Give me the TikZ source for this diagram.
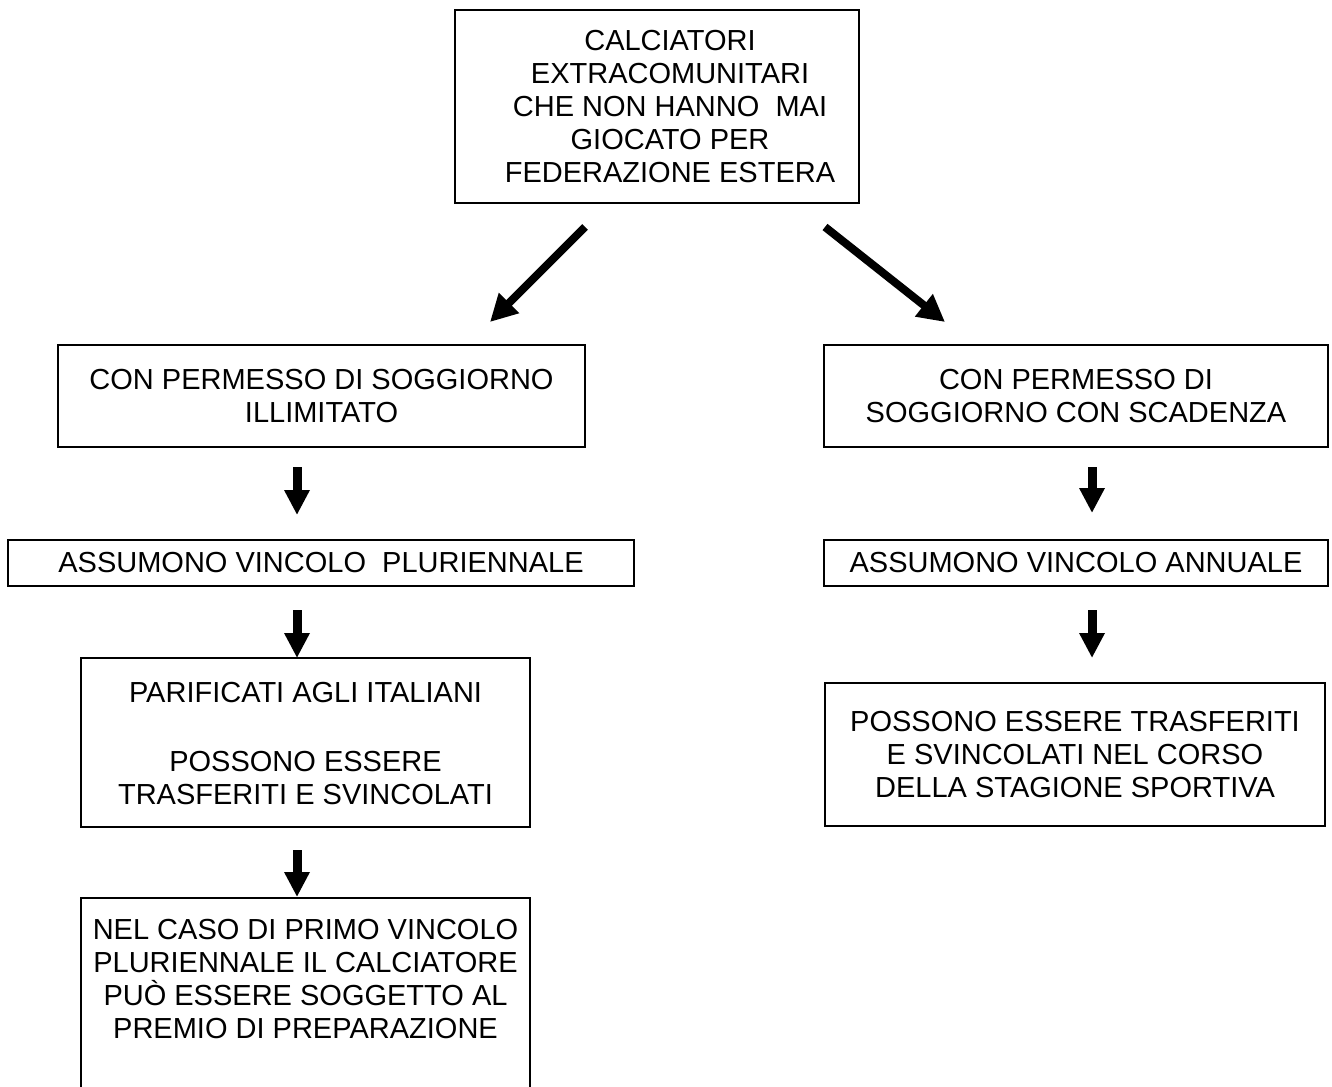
\documentclass[tikz,border=0pt]{standalone}
\usepackage{fontspec}
\setmainfont{Liberation Sans}
\usetikzlibrary{arrows.meta}
\begin{document}
\begin{tikzpicture}[x=1pt,y=-1pt,
  box/.style={draw, line width=1.4pt, inner sep=0pt, align=center,
    font=\fontsize{29}{33}\selectfont},
  txt/.style={inner sep=0pt, align=center, font=\fontsize{29}{33}\selectfont},
  diagarrow/.style={line width=8pt, -{Triangle[width=27pt,length=27pt]}},
  downarrow/.style={line width=9pt, -{Triangle[width=24pt,length=25pt]}}]
\useasboundingbox (0,0) rectangle (1332,1086);
\clip (0,0) rectangle (1332,1086);

% boxes
\node[box, minimum width=404pt, minimum height=193pt] (top) at (657,106.5) {};
\node[txt] (topt) at (670,106.5)
  {CALCIATORI\\EXTRACOMUNITARI\\CHE NON HANNO\ \ MAI\\GIOCATO PER\\FEDERAZIONE ESTERA};
\node[box, minimum width=527pt, minimum height=102pt] (l1) at (321.5,396)
  {CON PERMESSO DI SOGGIORNO\\ILLIMITATO};
\node[box, minimum width=504pt, minimum height=102pt] (r1) at (1076,396)
  {CON PERMESSO DI\\SOGGIORNO CON SCADENZA};
\node[box, minimum width=626pt, minimum height=46pt] (l2) at (321,563)
  {ASSUMONO VINCOLO\ \ PLURIENNALE};
\node[box, minimum width=504pt, minimum height=46pt] (r2) at (1076,563)
  {ASSUMONO VINCOLO ANNUALE};
\node[box, minimum width=449pt, minimum height=169pt] (l3) at (305.5,742.5) {};
\node[txt] (l3t) at (305.5,744)
  {PARIFICATI AGLI ITALIANI\\[36pt]POSSONO ESSERE\\TRASFERITI E SVINCOLATI};
\node[box, minimum width=500pt, minimum height=143pt] (r3) at (1075,754.5)
  {POSSONO ESSERE TRASFERITI\\E SVINCOLATI NEL CORSO\\DELLA STAGIONE SPORTIVA};
\node[box, minimum width=449pt, minimum height=212pt] (l4) at (305.5,1004) {};
\node[txt] (l4t) at (305.5,979.5)
  {NEL CASO DI PRIMO VINCOLO\\PLURIENNALE IL CALCIATORE\\PU\`O ESSERE SOGGETTO AL\\PREMIO DI PREPARAZIONE};

% arrow end points
\coordinate (dls) at (585,227);
\coordinate (dle) at (490,322);
\coordinate (drs) at (825,227);
\coordinate (dre) at (945,322);
\coordinate (a1s) at (297,467);
\coordinate (a1e) at (297,515);
\coordinate (a2s) at (297,610);
\coordinate (a2e) at (297,658);
\coordinate (a3s) at (297,850);
\coordinate (a3e) at (297,897);
\coordinate (b1s) at (1092,467);
\coordinate (b1e) at (1092,513);
\coordinate (b2s) at (1092,610);
\coordinate (b2e) at (1092,658);

\draw[diagarrow] (dls) -- (dle);
\draw[diagarrow] (drs) -- (dre);
\draw[downarrow] (a1s) -- (a1e);
\draw[downarrow] (a2s) -- (a2e);
\draw[downarrow] (a3s) -- (a3e);
\draw[downarrow] (b1s) -- (b1e);
\draw[downarrow] (b2s) -- (b2e);
\end{tikzpicture}
\end{document}
